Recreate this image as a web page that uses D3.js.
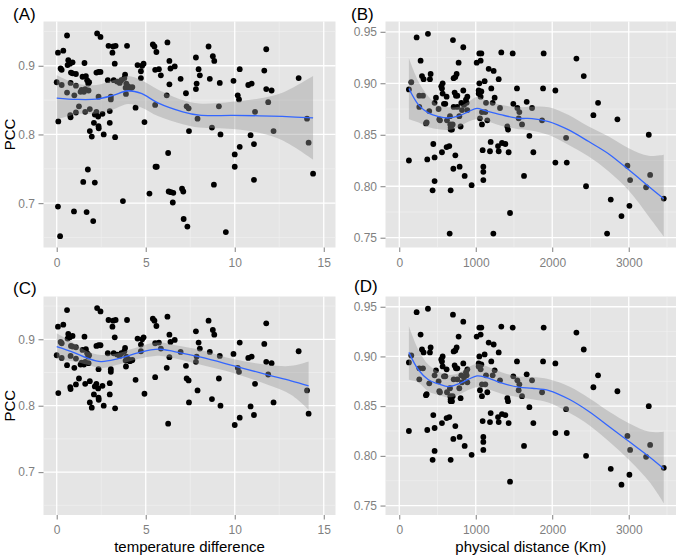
<!DOCTYPE html>
<html><head><meta charset="utf-8">
<script src="https://cdn.jsdelivr.net/npm/d3@7"></script>
<style>body{margin:0;background:#fff}svg{display:block;font-family:"Liberation Sans",Arial,sans-serif}</style>
</head><body><svg id="c" width="684" height="559"></svg>
<script>
// ---- Data: temperature difference vs PCC (panel A; C = same pairs without the low outliers) ----
const tempDiff = [0,0.07,0.09,0.07,0.19,0.22,0.28,0.28,0.37,0.58,0.61,0.65,0.58,0.74,0.78,0.80,0.76,0.78,0.89,0.89,0.97,0.99,1.08,1.08,1.08,1.25,1.34,1.40,1.45,1.49,1.53,1.56,1.60,1.60,1.64,1.68,1.75,1.71,1.77,1.79,1.82,1.86,1.86,1.97,2.05,2.09,2.14,2.14,2.23,2.23,2.27,2.35,2.33,2.35,2.36,2.35,2.46,2.46,2.57,2.64,2.87,2.91,2.98,2.98,3.04,3.04,3.13,3.17,3.20,3.26,3.28,3.31,3.39,3.54,3.63,3.72,3.80,3.84,3.87,3.89,3.91,3.95,4.02,4.10,4.19,4.25,4.43,4.54,4.73,4.73,4.80,4.88,4.93,5.21,5.40,5.49,5.53,5.53,5.55,5.60,5.62,5.74,5.85,6.18,6.22,6.26,6.29,6.33,6.33,6.39,6.42,6.52,6.55,6.63,6.96,7.04,7.11,7.13,7.26,7.30,7.34,7.41,7.43,7.82,7.82,7.86,7.91,7.97,8.04,8.53,8.60,8.72,8.77,8.85,8.83,9.11,9.16,9.20,9.50,9.93,10.0,10.0,10.17,10.24,10.28,10.28,10.76,10.89,10.95,11.08,11.08,11.14,11.66,11.77,11.77,11.88,12.07,12.18,13.59,14.06,14.15,14.40];
const pccTemp = [0.876,0.919,0.819,0.695,0.652,0.896,0.894,0.872,0.922,0.944,0.901,0.908,0.861,0.903,0.875,0.890,0.828,0.825,0.905,0.889,0.688,0.857,0.888,0.871,0.832,0.841,0.862,0.865,0.884,0.731,0.862,0.904,0.866,0.833,0.885,0.687,0.749,0.879,0.874,0.864,0.876,0.837,0.805,0.797,0.674,0.817,0.730,0.829,0.890,0.833,0.947,0.891,0.826,0.812,0.809,0.855,0.942,0.891,0.830,0.800,0.879,0.929,0.817,0.834,0.851,0.855,0.919,0.928,0.879,0.903,0.796,0.929,0.877,0.875,0.879,0.703,0.882,0.887,0.868,0.859,0.874,0.929,0.870,0.867,0.868,0.869,0.839,0.901,0.892,0.882,0.900,0.903,0.818,0.714,0.931,0.928,0.894,0.843,0.753,0.920,0.753,0.895,0.886,0.857,0.934,0.773,0.717,0.907,0.873,0.896,0.716,0.701,0.715,0.899,0.881,0.721,0.717,0.677,0.860,0.841,0.666,0.838,0.805,0.912,0.866,0.874,0.823,0.895,0.886,0.928,0.881,0.810,0.914,0.907,0.727,0.841,0.875,0.800,0.658,0.878,0.771,0.753,0.857,0.851,0.895,0.782,0.872,0.799,0.874,0.786,0.734,0.833,0.893,0.924,0.866,0.847,0.864,0.805,0.882,0.823,0.788,0.743];

// ---- Data: physical distance (Km) vs PCC (panel B; D = same pairs without the low outliers) ----
const distKm = [126,126,157,227,262,262,279,297,310,318,349,358,366,375,392,401,410,436,445,462,462,462,480,514,523,532,549,558,558,567,567,584,602,619,619,624,654,663,667,672,672,672,659,689,698,702,711,711,707,724,733,733,741,750,759,759,776,785,789,802,811,820,837,837,846,855,872,881,890,890,946,1012,1038,1038,1047,1047,1055,1064,1064,1073,1073,1081,1081,1090,1099,1099,1099,1116,1125,1134,1151,1169,1186,1195,1203,1221,1234,1230,1247,1291,1300,1300,1317,1334,1343,1387,1413,1422,1430,1448,1483,1491,1539,1544,1561,1570,1605,1631,1666,1701,1736,1753,1867,1880,1888,2041,2041,2181,2190,2316,2412,2442,2538,2599,2717,2765,2852,2905,2983,3009,3018,3227,3262,3280,3458];
const pccDist = [0.894,0.825,0.901,0.9445,0.888,0.877,0.922,0.907,0.888,0.904,0.861,0.862,0.826,0.948,0.873,0.904,0.909,0.796,0.841,0.805,0.828,0.881,0.886,0.875,0.865,0.864,0.897,0.895,0.833,0.900,0.890,0.880,0.880,0.887,0.838,0.864,0.839,0.868,0.860,0.857,0.855,0.796,0.754,0.855,0.860,0.942,0.877,0.905,0.817,0.891,0.906,0.830,0.888,0.909,0.877,0.888,0.920,0.868,0.819,0.858,0.881,0.874,0.935,0.893,0.879,0.810,0.884,0.881,0.887,0.874,0.801,0.920,0.893,0.890,0.929,0.900,0.866,0.922,0.887,0.929,0.892,0.860,0.872,0.835,0.819,0.814,0.806,0.902,0.872,0.881,0.864,0.914,0.834,0.843,0.895,0.881,0.912,0.754,0.886,0.839,0.834,0.904,0.876,0.930,0.842,0.841,0.858,0.855,0.833,0.774,0.929,0.880,0.895,0.876,0.866,0.872,0.860,0.810,0.882,0.849,0.876,0.833,0.864,0.895,0.929,0.893,0.823,0.847,0.823,0.924,0.907,0.800,0.869,0.881,0.754,0.787,0.865,0.771,0.820,0.781,0.806,0.799,0.850,0.811,0.788];

const outlierCut = 0.76; // points below this PCC are absent from panels C and D

// ---- Smoother (loess) fit and confidence band ----
const smoothA_x  = [0,1.12,2.24,3.17,4.0,4.75,5.68,7.08,8.01,9.87,11.37,12.67,14.4];
const smoothA_y  = [0.853,0.851,0.8515,0.857,0.8636,0.8597,0.846,0.833,0.828,0.8277,0.8272,0.8262,0.824];
const smoothA_hi = [0.886,0.874,0.872,0.879,0.885,0.879,0.8655,0.85,0.845,0.8476,0.8524,0.8607,0.885];
const smoothA_lo = [0.822,0.8296,0.8306,0.8364,0.8442,0.8393,0.8267,0.815,0.810,0.8078,0.8024,0.7917,0.7636];

const smoothC_x  = [0,0.97,1.73,2.48,3.41,4.35,5.29,5.85,6.6,8.1,9.96,11.85,13.16,14.15];
const smoothC_y  = [0.889,0.880,0.8715,0.8665,0.8705,0.878,0.884,0.885,0.8815,0.873,0.860,0.8465,0.8375,0.830];
const smoothC_hi = [0.909,0.894,0.8815,0.8765,0.879,0.8865,0.894,0.895,0.8915,0.884,0.870,0.8615,0.860,0.8665];
const smoothC_lo = [0.870,0.8665,0.8615,0.8565,0.8615,0.869,0.874,0.875,0.8715,0.8615,0.849,0.8315,0.8165,0.794];

const smoothB_x  = [126,253,384,515,645,776,907,1016,1125,1343,1561,1736,1954,2215,2477,2739,3000,3262,3458];
const smoothB_y  = [0.895,0.879,0.871,0.8676,0.8663,0.8683,0.8725,0.8757,0.8734,0.8692,0.866,0.8657,0.8628,0.8547,0.8434,0.8314,0.8159,0.7998,0.7878];
const smoothB_hi = [0.9242,0.9015,0.887,0.8789,0.8767,0.8773,0.8821,0.887,0.8838,0.8789,0.8767,0.8773,0.8767,0.8692,0.8579,0.8482,0.8369,0.8295,0.8305];
const smoothB_lo = [0.865,0.8618,0.8573,0.8553,0.8547,0.8573,0.8628,0.865,0.8637,0.8586,0.8553,0.854,0.8498,0.8401,0.8288,0.8143,0.7959,0.7707,0.7513];

const smoothD_x  = [126,250,381,512,644,775,907,1016,1126,1345,1564,1739,1958,2221,2484,2746,3009,3272,3458];
const smoothD_y  = [0.9041,0.8866,0.8765,0.8724,0.8697,0.8724,0.8771,0.8805,0.8792,0.8731,0.8691,0.868,0.8657,0.8569,0.8444,0.8293,0.8141,0.7989,0.7871];
const smoothD_hi = [0.9304,0.9068,0.8917,0.8849,0.8815,0.8832,0.8893,0.8927,0.8906,0.8839,0.8798,0.8792,0.8771,0.8697,0.8579,0.8444,0.8326,0.8242,0.8242];
const smoothD_lo = [0.8765,0.8738,0.8647,0.8613,0.8589,0.8613,0.8664,0.8691,0.868,0.8623,0.8589,0.8569,0.8535,0.8434,0.8309,0.8141,0.7955,0.7736,0.7524];

// ---- Ticks ----
const tempTicks = [0,5,10,15];
const tempMinor = [2.5,7.5,12.5];
const distTicks = [0,1000,2000,3000];
const distMinor = [500,1500,2500,3500];
const pccTicksTemp = [0.7,0.8,0.9];
const pccMinorTemp = [0.65,0.75,0.85,0.95];
const pccTicksDist = [0.75,0.80,0.85,0.90,0.95];
const pccMinorDist = [0.775,0.825,0.875,0.925];

const panelLabels = ["(A)","(B)","(C)","(D)"];
const xTitles = ["temperature difference","physical distance (Km)"];
const yTitle = "PCC";

// ---- Build ----
const zip = (xs, ys) => xs.map((x,i)=>({x, y:ys[i]}));
const ptsA = zip(tempDiff, pccTemp);
const ptsB = zip(distKm, pccDist);
const ptsC = ptsA.filter(d => d.y > outlierCut);
const ptsD = ptsB.filter(d => d.y > outlierCut);
const band = (xs, ys, lo, hi) => xs.map((x,i)=>({x, y:ys[i], lo:lo[i], hi:hi[i]}));

const L = 43.5, R1 = 335.5, L2 = 385.5, R2 = 676;
const T1 = 21.5, B1 = 247.5, T2 = 296.5, B2 = 515;

const panels = [
  {label:panelLabels[0], lx:13, ly:19.5, x0:L, x1:R1, y0:T1, y1:B1, xd:[-0.742,15.66], yd:[0.6355,0.9644],
   xt:tempTicks, xm:tempMinor, yt:pccTicksTemp, ym:pccMinorTemp, yf:d3.format(".1f"), pts:ptsA,
   sm:band(smoothA_x,smoothA_y,smoothA_lo,smoothA_hi), ytitle:true, xtitle:null},
  {label:panelLabels[1], lx:351, ly:19.5, x0:L2, x1:R2, y0:T1, y1:B1, xd:[-180,3618], yd:[0.7405,0.9600],
   xt:distTicks, xm:distMinor, yt:pccTicksDist, ym:pccMinorDist, yf:d3.format(".2f"), pts:ptsB,
   sm:band(smoothB_x,smoothB_y,smoothB_lo,smoothB_hi), ytitle:false, xtitle:null},
  {label:panelLabels[2], lx:13, ly:293.5, x0:L, x1:R1, y0:T2, y1:B2, xd:[-0.742,15.66], yd:[0.6355,0.9644],
   xt:tempTicks, xm:tempMinor, yt:pccTicksTemp, ym:pccMinorTemp, yf:d3.format(".1f"), pts:ptsC,
   sm:band(smoothC_x,smoothC_y,smoothC_lo,smoothC_hi), ytitle:true, xtitle:xTitles[0]},
  {label:panelLabels[3], lx:354, ly:292, x0:L2, x1:R2, y0:T2, y1:B2, xd:[-180,3618], yd:[0.7405,0.9603],
   xt:distTicks, xm:distMinor, yt:pccTicksDist, ym:pccMinorDist, yf:d3.format(".2f"), pts:ptsD,
   sm:band(smoothD_x,smoothD_y,smoothD_lo,smoothD_hi), ytitle:false, xtitle:xTitles[1]}
];

const svg = d3.select("#c");
const curve = d3.curveCatmullRom.alpha(0.5);

panels.forEach((p,pi) => {
  const x = d3.scaleLinear().domain(p.xd).range([p.x0,p.x1]);
  const y = d3.scaleLinear().domain(p.yd).range([p.y1,p.y0]);
  const g = svg.append("g");
  const cid = "clip"+pi;
  svg.append("clipPath").attr("id",cid).append("rect")
    .attr("x",p.x0).attr("y",p.y0).attr("width",p.x1-p.x0).attr("height",p.y1-p.y0);

  g.append("rect").attr("x",p.x0).attr("y",p.y0).attr("width",p.x1-p.x0).attr("height",p.y1-p.y0)
    .attr("fill","#e5e5e5");

  // minor grid
  g.selectAll(null).data(p.xm).join("line")
    .attr("x1",d=>x(d)).attr("x2",d=>x(d)).attr("y1",p.y0).attr("y2",p.y1)
    .attr("stroke","#f2f2f2").attr("stroke-width",0.6);
  g.selectAll(null).data(p.ym).join("line")
    .attr("y1",d=>y(d)).attr("y2",d=>y(d)).attr("x1",p.x0).attr("x2",p.x1)
    .attr("stroke","#f2f2f2").attr("stroke-width",0.6);
  // major grid
  g.selectAll(null).data(p.xt).join("line")
    .attr("x1",d=>x(d)).attr("x2",d=>x(d)).attr("y1",p.y0).attr("y2",p.y1)
    .attr("stroke","#ffffff").attr("stroke-width",1.3);
  g.selectAll(null).data(p.yt).join("line")
    .attr("y1",d=>y(d)).attr("y2",d=>y(d)).attr("x1",p.x0).attr("x2",p.x1)
    .attr("stroke","#ffffff").attr("stroke-width",1.3);

  const plot = g.append("g").attr("clip-path",`url(#${cid})`);
  // points
  plot.selectAll("circle").data(p.pts).join("circle")
    .attr("cx",d=>x(d.x)).attr("cy",d=>y(d.y)).attr("r",2.9).attr("fill","#000");
  // confidence band over the points
  plot.append("path").datum(p.sm)
    .attr("d", d3.area().x(d=>x(d.x)).y0(d=>y(d.lo)).y1(d=>y(d.hi)).curve(curve))
    .attr("fill","#999999").attr("fill-opacity",0.4);
  plot.append("path").datum(p.sm)
    .attr("d", d3.line().x(d=>x(d.x)).y(d=>y(d.y)).curve(curve))
    .attr("fill","none").attr("stroke","#3366FF").attr("stroke-width",1.3);

  // axes
  const ax = g.append("g").attr("transform",`translate(0,${p.y1})`)
    .call(d3.axisBottom(x).tickValues(p.xt).tickSize(4.5).tickPadding(6).tickFormat(d3.format("d")));
  const ay = g.append("g").attr("transform",`translate(${p.x0},0)`)
    .call(d3.axisLeft(y).tickValues(p.yt).tickSize(5).tickPadding(3.5).tickFormat(p.yf));
  [ax,ay].forEach(a => {
    a.select(".domain").remove();
    a.selectAll(".tick line").attr("stroke","#7f7f7f");
    a.selectAll(".tick text").attr("fill","#7f7f7f").attr("font-size","12px")
      .attr("font-family","'Liberation Sans',Arial,sans-serif");
  });

  svg.append("text").attr("x",p.lx).attr("y",p.ly).attr("font-size","17px").attr("fill","#000").text(p.label);

  if (p.ytitle) {
    const cy = (p.y0+p.y1)/2;
    svg.append("text").attr("transform",`translate(15,${cy}) rotate(-90)`)
      .attr("text-anchor","middle").attr("font-size","15px").attr("fill","#000").text(yTitle);
  }
  if (p.xtitle) {
    svg.append("text").attr("x",(p.x0+p.x1)/2).attr("y",552)
      .attr("text-anchor","middle").attr("font-size","15px").attr("fill","#000").text(p.xtitle);
  }
});
</script></body></html>
